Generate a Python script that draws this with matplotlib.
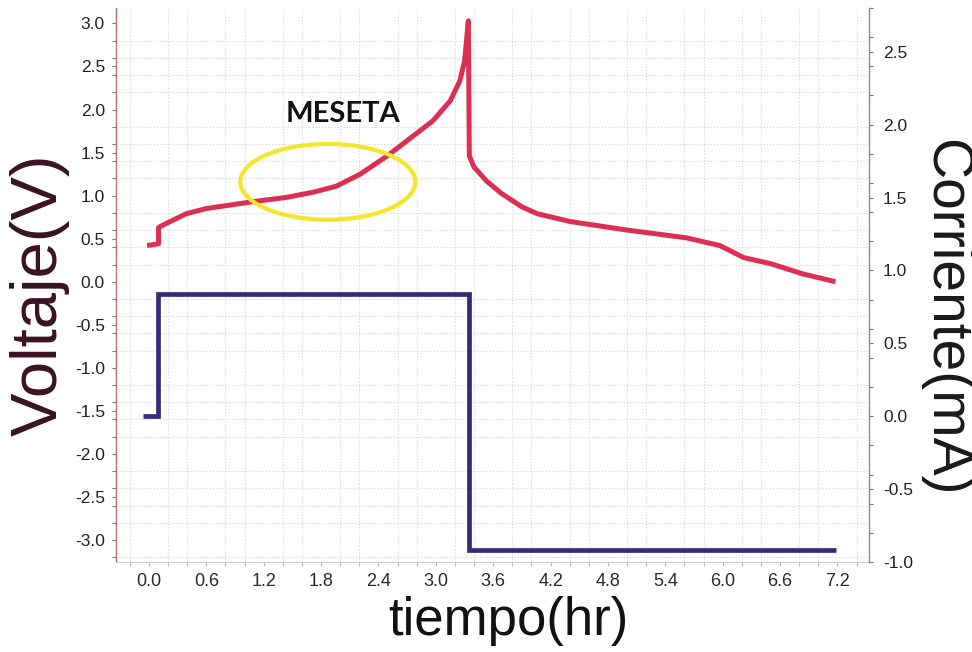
import matplotlib
matplotlib.use("Agg")
import matplotlib.pyplot as plt
from matplotlib.patches import Ellipse
from matplotlib.ticker import MultipleLocator
import numpy as np

# Voltage trace (hours, volts)
tiempo_v = [-0.02, 0.10, 0.10, 0.15, 0.39, 0.60, 1.09, 1.44, 1.72, 1.96, 2.21,
            2.49, 2.76, 2.97, 3.15, 3.25, 3.30, 3.34, 3.35, 3.40, 3.53, 3.68,
            3.90, 4.06, 4.40, 5.00, 5.62, 5.97, 6.22, 6.50, 6.84, 7.18]
voltaje = [0.42, 0.44, 0.63, 0.66, 0.79, 0.85, 0.93, 0.98, 1.04, 1.11, 1.25,
           1.46, 1.69, 1.87, 2.10, 2.33, 2.56, 3.03, 1.46, 1.33, 1.17, 1.03,
           0.87, 0.79, 0.70, 0.60, 0.51, 0.42, 0.28, 0.21, 0.09, 0.00]

# Current trace (hours, mA)
tiempo_i = [-0.06, 0.09, 0.09, 3.35, 3.35, 7.19]
corriente = [0.0, 0.0, 0.84, 0.84, -0.92, -0.92]

x_ticks = [0.0, 0.6, 1.2, 1.8, 2.4, 3.0, 3.6, 4.2, 4.8, 5.4, 6.0, 6.6, 7.2]
v_ticks = [-3.0, -2.5, -2.0, -1.5, -1.0, -0.5, 0.0, 0.5, 1.0, 1.5, 2.0, 2.5, 3.0]
i_ticks = [-1.0, -0.5, 0.0, 0.5, 1.0, 1.5, 2.0, 2.5]

W, H = 972, 652
fig = plt.figure(figsize=(W / 100, H / 100), dpi=100)
fig.patch.set_facecolor("white")

left, right, top, bottom = 116, 869, 8, 562
ax = fig.add_axes([left / W, 1 - bottom / H, (right - left) / W, (bottom - top) / H])
ax.set_xlim(-0.345, 7.53)
ax.set_ylim(-3.255, 3.179)

# dotted background grid
ax.xaxis.set_minor_locator(MultipleLocator(0.2))
ax.yaxis.set_minor_locator(MultipleLocator(0.2))
ax.grid(which="minor", color="#d9d9d9", linestyle=(0, (1.2, 1.6)), linewidth=0.8)
ax.grid(which="major", visible=False)
ax.set_axisbelow(True)

ax.set_xticks(x_ticks)
ax.set_xticklabels([f"{v:.1f}" for v in x_ticks])
ax.set_yticks(v_ticks)
ax.set_yticklabels([f"{v:.1f}" for v in v_ticks])

tick_font = ["Liberation Sans", "DejaVu Sans"]
for lab in ax.get_yticklabels():
    lab.set_fontfamily(tick_font)
    lab.set_fontsize(12.5)
    lab.set_color("#222222")
for lab in ax.get_xticklabels():
    lab.set_fontfamily(tick_font)
    lab.set_fontsize(13)
    lab.set_color("#2a2a2a")

ax.tick_params(axis="y", which="both", direction="out", length=3, width=0.8,
               color="#9a6a6a", pad=5)
ax.tick_params(axis="x", which="both", direction="out", length=3, width=0.8,
               color="#bbbbbb", pad=5)

ax.spines["top"].set_visible(False)
ax.spines["right"].set_visible(False)
ax.spines["left"].set_color("#b0706a")
ax.spines["left"].set_linewidth(1.0)
ax.spines["bottom"].set_color("#cccccc")

ax.plot(tiempo_v, voltaje, color="#dc2f52", linewidth=3.6,
        solid_joinstyle="round", solid_capstyle="butt", zorder=3)

ax.add_patch(Ellipse((1.87, 1.16), 1.83, 0.88, fill=False,
                     edgecolor="#f2e52a", linewidth=3.0, zorder=4))
ax.text(2.03, 1.95, "MESETA", fontsize=21, fontweight="bold",
        family=["Lato", "DejaVu Sans"], color="#111111",
        ha="center", va="center", zorder=5)

# current on the secondary axis
ax2 = ax.twinx()
ax2.set_ylim(-1.0, 2.80)
ax2.set_yticks(i_ticks)
ax2.set_yticklabels([f"{v:.1f}" for v in i_ticks])
ax2.yaxis.set_minor_locator(MultipleLocator(0.2))
for lab in ax2.get_yticklabels():
    lab.set_fontfamily(tick_font)
    lab.set_fontsize(12.5)
    lab.set_color("#222222")
ax2.tick_params(axis="y", which="both", direction="out", length=3, width=0.8,
                color="#777777", pad=7)
for s in ("top", "left", "bottom"):
    ax2.spines[s].set_visible(False)
ax2.spines["right"].set_color("#8a8a8a")
ax2.spines["right"].set_linewidth(1.0)

ax2.plot(tiempo_i, corriente, color="#3b2879", linewidth=3.4,
         solid_joinstyle="miter", solid_capstyle="butt", zorder=3)

# axis titles
fig.text(40 / W, 1 - 295 / H, "Voltaje(V)", rotation=90, fontsize=47,
         family=tick_font, color="#3a1322", ha="center", va="center")
fig.text(945 / W, 1 - 318 / H, "Corriente(mA)", rotation=-90, fontsize=41,
         family=tick_font, color="#1a1a1a", ha="center", va="center")
fig.text(508 / W, 17 / H, "tiempo(hr)", fontsize=38,
         family=tick_font, color="#111111", ha="center", va="baseline")

fig.savefig("out.png", dpi=100, facecolor="white")
